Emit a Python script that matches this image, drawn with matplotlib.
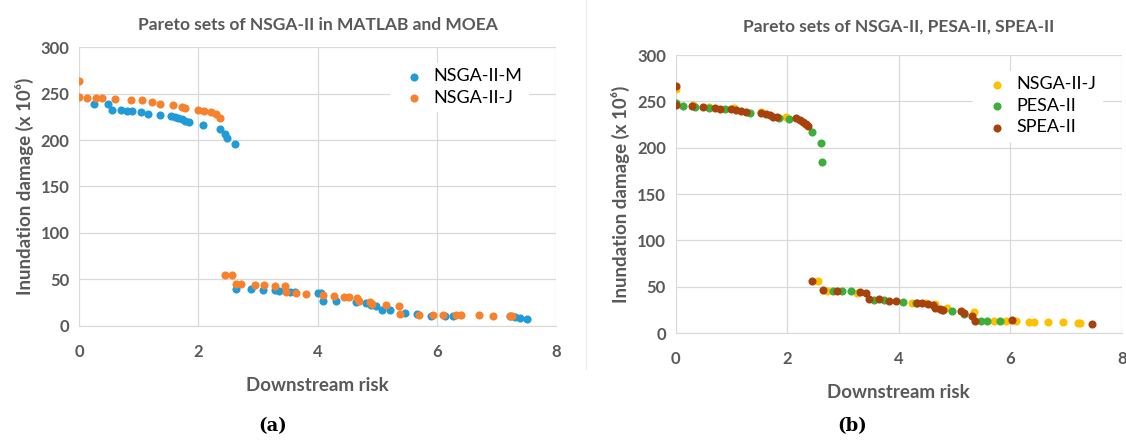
import matplotlib

matplotlib.use("Agg")
import matplotlib.pyplot as plt
from matplotlib.lines import Line2D

plt.rcParams["font.family"] = ["Lato", "DejaVu Sans"]

GREY = "#595959"
GRID = "#d9d9d9"

# panel (a): NSGA-II in MATLAB vs MOEA framework
M_X = [0.25, 0.49, 0.56, 0.70, 0.80, 0.89, 1.04, 1.16, 1.36, 1.54, 1.61, 1.66,
       1.73, 1.78, 1.85, 2.08, 2.37, 2.45, 2.48, 2.61,
       2.64, 2.89, 3.09, 3.29, 3.36, 3.54, 3.62, 4.00, 4.06, 4.09, 4.31, 4.64,
       4.82, 4.90, 4.98, 5.08, 5.21, 5.46, 5.66, 5.90, 6.13, 6.28, 7.22, 7.31,
       7.40, 7.52]
M_Y = [238.7, 238.7, 232.6, 232.0, 231.6, 231.0, 230.0, 227.7, 227.0, 226.0,
       225.0, 223.8, 222.7, 220.0, 219.0, 216.0, 212.0, 206.7, 202.0, 196.0,
       39.6, 39.6, 38.2, 38.2, 37.5, 36.7, 36.7, 35.7, 35.0, 27.0, 26.4, 25.6,
       24.6, 22.4, 21.3, 17.0, 17.0, 13.8, 12.4, 10.6, 10.2, 10.2, 10.6, 9.9,
       8.8, 7.0]
J_X = [0.0, 0.0, 0.13, 0.28, 0.38, 0.60, 0.87, 1.06, 1.23, 1.35, 1.58, 1.73,
       1.78, 2.00, 2.09, 2.22, 2.30, 2.37,
       2.44, 2.57, 2.63, 2.71, 2.95, 3.11, 3.28, 3.46, 3.47, 3.64, 3.80, 4.09,
       4.27, 4.45, 4.52, 4.67, 4.70, 4.88, 4.91, 5.14, 5.36, 5.39, 5.70, 5.93,
       6.11, 6.32, 6.41, 6.70, 6.95, 7.22, 7.26]
J_Y = [263.5, 246.5, 245.0, 245.0, 244.7, 244.0, 242.6, 242.6, 240.4, 238.7,
       237.2, 235.0, 234.0, 232.3, 231.0, 230.0, 228.0, 223.4,
       54.7, 54.7, 45.3, 45.3, 43.9, 43.9, 43.2, 42.5, 36.0, 35.0, 34.2, 33.2,
       32.4, 31.0, 31.0, 30.3, 26.7, 26.0, 23.5, 22.8, 21.7, 12.7, 12.0, 12.0,
       11.3, 11.3, 11.3, 11.3, 11.0, 10.2, 10.2]

# panel (b): NSGA-II-J, PESA-II, SPEA-II
NJ_X = [0.0, 0.32, 0.60, 1.05, 1.53, 1.97, 2.32,
        2.55, 2.71, 3.25, 4.23, 4.49, 4.65, 4.87, 5.35, 5.70, 5.92, 6.10, 6.33,
        6.42, 6.68, 6.94, 7.22, 7.25]
NJ_Y = [263.0, 245.7, 244.0, 242.8, 238.5, 232.7, 225.5,
        56.4, 45.7, 43.6, 32.9, 32.1, 31.4, 27.5, 22.9, 13.2, 12.5, 12.5, 12.1,
        12.1, 12.1, 12.1, 11.1, 11.1]
PE_X = [0.0, 0.13, 0.35, 0.60, 0.89, 1.34, 1.85, 2.04, 2.45, 2.61, 2.63,
        2.83, 2.99, 3.14, 3.56, 3.74, 4.07, 4.30, 4.77, 4.95, 5.17, 5.48, 5.59,
        5.81]
PE_Y = [247.8, 245.0, 243.5, 242.8, 241.7, 237.8, 231.7, 231.0, 217.3, 204.7,
        184.9,
        45.7, 45.7, 45.0, 35.7, 35.7, 33.6, 32.1, 24.6, 23.9, 20.4, 13.2, 13.2,
        12.5]
SP_X = [0.0, 0.0, 0.29, 0.50, 0.71, 0.80, 0.99, 1.08, 1.18, 1.27, 1.53, 1.62,
        1.69, 1.75, 1.81, 2.16, 2.23, 2.29, 2.34, 2.37,
        2.44, 2.64, 2.90, 3.31, 3.41, 3.47, 3.64, 3.82, 3.95, 4.33, 4.42, 4.52,
        4.61, 4.65, 4.74, 4.80, 5.12, 5.17, 5.31, 5.36, 6.03, 7.46]
SP_Y = [266.9, 245.7, 245.0, 244.2, 242.8, 242.0, 241.4, 240.6, 240.0, 238.0,
        237.8, 236.3, 235.0, 233.5, 232.7, 231.7, 230.0, 227.7, 225.5, 223.4,
        56.4, 46.4, 45.7, 44.3, 43.6, 37.1, 36.4, 35.0, 34.3, 32.9, 32.1, 31.0,
        30.0, 27.5, 25.7, 25.0, 23.9, 22.1, 18.6, 13.2, 13.6, 9.3]

TITLES = ["Pareto sets of NSGA-II in MATLAB and MOEA",
          "Pareto sets of NSGA-II, PESA-II, SPEA-II"]


def style(ax, title, tpad):
    ax.set_xlim(0, 8)
    ax.set_ylim(0, 300)
    ax.set_xticks([0, 2, 4, 6, 8])
    ax.set_yticks(range(0, 301, 50))
    ax.grid(color=GRID, lw=0.9)
    ax.set_axisbelow(True)
    for s in ["top", "right", "left"]:
        ax.spines[s].set_visible(False)
    ax.spines["bottom"].set_color(GRID)
    ax.tick_params(length=0, colors=GREY, labelsize=12, pad=13)
    for lab in ax.get_xticklabels() + ax.get_yticklabels():
        lab.set_fontweight("bold")
    ax.tick_params(axis="y", pad=7)
    ax.set_title(title, color=GREY, fontsize=12.5, fontweight="bold", pad=tpad)
    ax.set_xlabel("Downstream risk", color=GREY, fontsize=13.5,
                  fontweight="bold", labelpad=12)
    ax.set_ylabel("Inundation damage (x 10\u2076)", color=GREY, fontsize=13.5,
                  fontweight="bold", labelpad=5)


fig = plt.figure(figsize=(11.26, 4.44), dpi=100)
ax1 = fig.add_axes([0.0702, 0.266, 0.4236, 0.628])
ax2 = fig.add_axes([0.600, 0.250, 0.3964, 0.626])

kw = dict(s=34, linewidths=0, zorder=3)
leg = dict(loc="upper right", frameon=True, facecolor="white",
           edgecolor="white", framealpha=1, fontsize=13, handletextpad=0.1,
           borderpad=0.3, labelspacing=0.3, scatterpoints=1)

ax1.scatter(M_X, M_Y, color="#1f9bd7", label="NSGA-II-M", **kw)
ax1.scatter(J_X, J_Y, color="#f7812d", label="NSGA-II-J", **kw)
style(ax1, TITLES[0], 12)
ax1.legend(bbox_to_anchor=(0.96, 0.975), **leg)

ax2.scatter(NJ_X, NJ_Y, color="#ffc000", label="NSGA-II-J", **kw)
ax2.scatter(PE_X, PE_Y, color="#3dae3a", label="PESA-II", **kw)
ax2.scatter(SP_X, SP_Y, color="#a8420c", label="SPEA-II", **kw)
style(ax2, TITLES[1], 17)
ax2.legend(bbox_to_anchor=(0.975, 0.975), **leg)

# faint frame edge of the second chart
fig.add_artist(Line2D([0.52, 0.52], [0.17, 1.0], color="#eeeeee", lw=0.8))

fig.text(0.242, 0.03, "(a)", family="DejaVu Serif", fontweight="bold",
         fontsize=13, ha="center")
fig.text(0.757, 0.03, "(b)", family="DejaVu Serif", fontweight="bold",
         fontsize=13, ha="center")

fig.savefig("out.png", dpi=100)
